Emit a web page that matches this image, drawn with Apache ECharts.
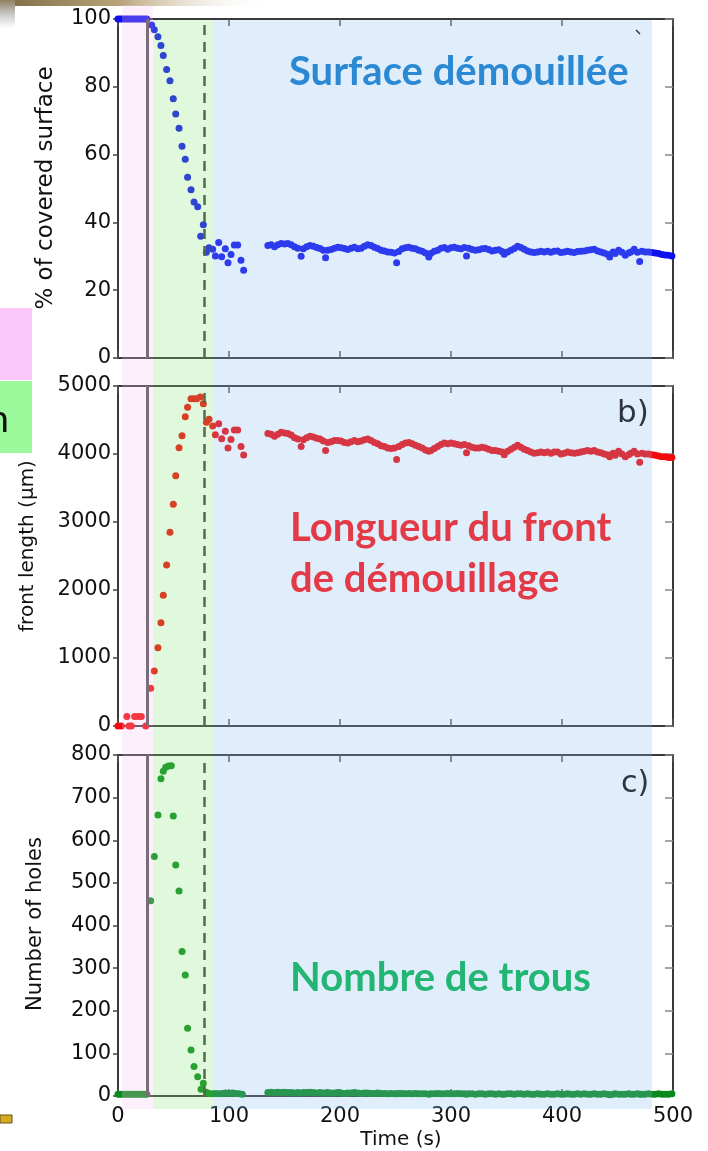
<!DOCTYPE html>
<html><head><meta charset="utf-8">
<script src="https://cdn.jsdelivr.net/npm/echarts@6/dist/echarts.min.js"></script>
<style>html,body{margin:0;padding:0;background:#fff}#c{width:708px;height:1151px}</style>
</head><body><div id="c"></div>
<script>
// ---------- data ----------
const timeTicks = [0, 100, 200, 300, 400, 500];

// panel a : % of covered surface
const coverEarlyTime  = [0,2,4,6,8,10,12,14,16,18,20,22,24,26,30.3,32.7,36,38.7,40.8,43.8,46.8,49.8,52,55,57.7,60.6,62.7,65.8,68.5,71.8,74.5,76.9,79.6,82,85.3,87.7,90.7,93.4,96.7,99.1,101.8,104.8,107.8,110.8,113.2];
const coverEarlyValue = [100,100,100,100,100,100,100,100,100,100,100,100,100,100,98.2,96.8,94.8,92.2,89.2,85.1,81.8,76.5,72,67.8,62.5,58.6,53.3,49.6,46,44.6,35.9,39.3,31.2,32.5,32.1,30.1,34.1,29.9,32.2,28.1,30.5,33.3,33.3,28.8,25.9];

// long-time plateau (shared sampling times for a, b, c)
const plateauTime = [135,138,141,144,147,150,153,156,159,162,165,167,170,173,176,179,182,185,187,189,192,195,198,201,204,207,210,213,216,219,222,225,228,231,234,237,240,243,246,249,251,253,256,259,262,265,268,271,274,277,280,282,285,288,291,294,297,300,303,306,309,312,314,316,319,322,325,328,331,334,337,340,343,346,348,351,354,357,360,363,366,369,372,375,378,381,384,387,390,393,396,399,402,405,408,411,414,417,420,423,426,429,432,435,438,441,443,446,448,451,454,457,460,462,465,468,470,472,475,478,481,484,487,490,493,496,499];
const coverPlateau = [33.2,33.4,32.8,33.4,33.8,33.6,33.8,33.4,32.8,32.4,30.0,32.2,32.8,33.2,33.0,32.6,32.3,31.8,29.6,31.8,32.0,32.4,32.7,32.5,32.3,32.0,32.4,32.7,32.2,32.4,33.0,33.4,33.2,32.7,32.3,31.8,31.6,31.3,31.2,31.0,28.1,31.4,32.2,32.5,32.7,32.4,32.2,31.8,31.5,31.0,29.8,30.9,31.5,31.8,32.4,32.6,32.1,32.5,32.7,32.4,32.2,32.6,30.1,32.4,32.0,31.8,31.9,32.2,32.3,32.0,31.6,31.8,31.9,31.4,30.6,31.3,31.8,32.3,33.0,32.6,32.1,31.6,31.3,31.1,31.3,31.5,31.3,31.5,31.2,31.5,31.6,31.1,31.3,31.5,31.3,31.1,31.4,31.5,31.6,31.8,31.9,32.1,31.6,31.3,31.0,30.6,29.8,31.3,30.8,31.8,31.2,30.3,31.0,31.3,32.1,31.2,28.5,31.5,31.3,31.3,31.1,31.0,30.8,30.5,30.4,30.3,30.1];

// panel b : front length (µm)
const frontEarlyTime  = [0,3,8,10,12,15,18,21,25,29.4,32.7,36,38.7,40.8,43.8,46.8,49.8,52,55,57.7,60.6,62.7,65.8,68.5,70.9,74.1,76.9,79.6,82,85.3,87.7,90.7,93.4,96.7,99.1,101.8,104.8,107.8,110.8,113.2];
const frontEarlyValue = [0,0,140,0,0,140,140,140,0,554,809,1152,1520,1922,2368,2848,3260,3681,4093,4270,4549,4686,4814,4814,4814,4838,4740,4466,4510,4412,4284,4446,4225,4333,4088,4215,4353,4353,4112,3985];
const frontPlateau = [4300,4290,4260,4290,4320,4310,4300,4280,4240,4220,4110,4210,4240,4260,4250,4230,4220,4190,4050,4170,4180,4200,4200,4190,4170,4160,4180,4200,4180,4190,4210,4220,4200,4170,4150,4120,4110,4090,4080,4090,3920,4110,4140,4160,4170,4150,4130,4110,4090,4060,4040,4050,4080,4110,4140,4160,4150,4160,4150,4140,4130,4140,4020,4120,4100,4090,4090,4100,4090,4070,4050,4050,4040,4030,3990,4040,4070,4100,4130,4100,4070,4050,4030,4010,4020,4030,4020,4030,4010,4030,4030,4000,4010,4030,4020,4010,4020,4030,4040,4050,4040,4050,4030,4020,4000,3990,3960,4010,3980,4040,4000,3960,3990,4010,4040,4000,3880,4010,4000,4000,3990,3980,3970,3960,3960,3950,3950];

// panel c : number of holes
const holesEarlyTime  = [0,2,4,6,8,10,12,14,16,18,20,22,24,26,29.4,32.7,36,38.7,40.8,43,45.5,48,49.8,52,55,57.7,60.6,62.7,65.8,68.5,71.8,74.8,76.9,79.6,82,85,88,91,94,97,100,103,106,109,112];
const holesEarlyValue = [4,4,4,4,4,4,4,4,4,4,4,4,4,4,458,562,659,744,762,771,774,775,657,542,481,339,284,159,108,69,45,16,30,9,6,5,6,5,6,7,6,7,6,5,4];
const holesPlateau = [8,9,8,9,8,9,8,8,7,8,7,8,8,9,8,7,8,7,7,8,7,7,8,7,6,7,7,8,7,6,7,7,6,6,7,6,6,5,6,5,5,6,6,5,6,5,6,5,5,5,4,5,5,6,5,5,6,5,5,6,5,5,4,5,5,4,5,5,4,5,5,4,5,4,4,5,5,4,5,5,4,5,4,4,5,4,4,5,4,4,5,4,4,5,4,4,5,4,5,4,4,5,4,4,5,4,3,4,5,4,4,4,5,4,4,5,4,4,4,5,4,4,5,4,4,4,5];

const eventTimes = [26.7, 77.5];   // solid / dashed vertical markers

// ---------- chart ----------
function pairs(t, v) { return t.map((x, i) => [x, v[i]]); }
const FRAME = '#3a3a3a';
const TICKFONT = '"DejaVu Sans", sans-serif';

const grids = [
  {left: 118, top: 19,  width: 555, height: 339},
  {left: 118, top: 386, width: 555, height: 340},
  {left: 118, top: 755, width: 555, height: 341}
];
const yRanges = [[0, 100, 20], [0, 5000, 1000], [0, 800, 100]];

const xAxes = [], yAxes = [];
grids.forEach((g, i) => {
  xAxes.push({
    type: 'value', gridIndex: i, position: 'bottom',
    min: timeTicks[0], max: timeTicks[timeTicks.length - 1], interval: timeTicks[1] - timeTicks[0],
    splitLine: {show: false},
    axisLine: {show: true, onZero: false, lineStyle: {color: FRAME, width: 2}},
    axisTick: {show: true, inside: true, length: 7, lineStyle: {color: '#555', width: 1.5}},
    axisLabel: {show: i === 2, margin: 10, color: '#111', fontSize: 21, fontFamily: TICKFONT, formatter: v => String(v)}
  });
  xAxes.push({
    type: 'value', gridIndex: i, position: 'top',
    min: timeTicks[0], max: timeTicks[timeTicks.length - 1], interval: timeTicks[1] - timeTicks[0],
    splitLine: {show: false},
    axisLine: {show: true, onZero: false, lineStyle: {color: FRAME, width: 2}},
    axisTick: {show: true, inside: true, length: 7, lineStyle: {color: '#555', width: 1.5}},
    axisLabel: {show: false}
  });
  const r = yRanges[i];
  yAxes.push({
    type: 'value', gridIndex: i, position: 'left', min: r[0], max: r[1], interval: r[2],
    splitLine: {show: false},
    axisLine: {show: true, onZero: false, lineStyle: {color: FRAME, width: 2}},
    axisTick: {show: true, inside: false, length: 5, lineStyle: {color: '#444', width: 1.5}},
    axisLabel: {margin: 7, color: '#111', fontSize: 21, fontFamily: TICKFONT, formatter: v => String(v)}
  });
  yAxes.push({
    type: 'value', gridIndex: i, position: 'right', min: r[0], max: r[1], interval: r[2],
    splitLine: {show: false},
    axisLine: {show: true, onZero: false, lineStyle: {color: FRAME, width: 2}},
    axisTick: {show: true, inside: true, length: 8, lineStyle: {color: '#888', width: 1.5}},
    axisLabel: {show: false}
  });
});

const markLines = {
  silent: true, symbol: 'none', animation: false, label: {show: false},
  data: [
    {xAxis: eventTimes[0], lineStyle: {type: 'solid', color: '#505050', width: 3}},
    {xAxis: eventTimes[1], lineStyle: {type: [10, 7], color: '#3c453c', width: 2.5}}
  ]
};

const series = [
  {type: 'scatter', xAxisIndex: 0, yAxisIndex: 0, symbolSize: 7, itemStyle: {color: '#1010ee', opacity: 1},
   data: pairs(coverEarlyTime, coverEarlyValue).concat(pairs(plateauTime, coverPlateau)), markLine: markLines},
  {type: 'scatter', xAxisIndex: 2, yAxisIndex: 2, symbolSize: 7, itemStyle: {color: '#f20a0a', opacity: 1},
   data: pairs(frontEarlyTime, frontEarlyValue).concat(pairs(plateauTime, frontPlateau)), markLine: markLines},
  {type: 'scatter', xAxisIndex: 4, yAxisIndex: 4, symbolSize: 7, itemStyle: {color: '#0a8a1c', opacity: 1},
   data: pairs(holesEarlyTime, holesEarlyValue).concat(pairs(plateauTime, holesPlateau)), markLine: markLines}
];

function txt(x, y, text, font, fill, extra) {
  return Object.assign({type: 'text', x: x, y: y, z: 60, silent: true,
    style: Object.assign({text: text, font: font, fill: fill, align: 'left', verticalAlign: 'middle'}, extra || {})});
}
const LABELFONT = '"DejaVu Sans", sans-serif';
const graphic = [
  // translucent time-window bands (overlaid on the plot)
  {type: 'rect', z: 50, silent: true, shape: {x: 122, y: 5, width: 31, height: 1104}, style: {fill: 'rgba(247,195,243,0.25)'}},
  {type: 'rect', z: 50, silent: true, shape: {x: 153, y: 20, width: 60, height: 1089}, style: {fill: 'rgba(131,227,115,0.25)'}},
  {type: 'rect', z: 50, silent: true, shape: {x: 213, y: 20, width: 439, height: 1089}, style: {fill: 'rgba(131,187,239,0.25)'}},
  // slide decorations at the left edge
  {type: 'rect', z: 40, silent: true, shape: {x: 0, y: 0, width: 270, height: 6},
   style: {fill: new echarts.graphic.LinearGradient(0, 0, 1, 0, [{offset: 0, color: '#7d6a45'}, {offset: 0.45, color: '#b9a57a'}, {offset: 1, color: 'rgba(255,255,255,0)'}])}},
  {type: 'rect', z: 40, silent: true, shape: {x: 0, y: 0, width: 15, height: 28},
   style: {fill: new echarts.graphic.LinearGradient(0, 0, 0, 1, [{offset: 0, color: '#8f8060'}, {offset: 0.5, color: '#c8c8c8'}, {offset: 1, color: '#ffffff'}])}},
  {type: 'rect', z: 40, silent: true, shape: {x: 0, y: 308, width: 32, height: 72}, style: {fill: '#fac8f8'}},
  {type: 'rect', z: 40, silent: true, shape: {x: 0, y: 381, width: 32, height: 72}, style: {fill: '#9cf99c'}},
  txt(9, 420, 'n', '38px Lato, sans-serif', '#111', {align: 'right'}),
  {type: 'rect', z: 40, silent: true, shape: {x: 0, y: 1115, width: 12, height: 8}, style: {fill: '#d6ab22', stroke: '#6b5010', lineWidth: 1}},
  {type: 'line', z: 60, silent: true, shape: {x1: 636, y1: 30, x2: 640, y2: 34}, style: {stroke: '#333', lineWidth: 1.5}},
  // axis titles
  txt(46, 188, '% of covered surface', '23px ' + LABELFONT, '#111', {align: 'center'}),
  txt(28, 546, 'front length (µm)', '20px ' + LABELFONT, '#111', {align: 'center'}),
  txt(36, 924, 'Number of holes', '21px ' + LABELFONT, '#111', {align: 'center'}),
  txt(401, 1140, 'Time (s)', '20px ' + LABELFONT, '#111', {align: 'center'}),
  // panel tags
  txt(617, 414, 'b)', '31px ' + LABELFONT, '#2f3540'),
  txt(621, 784, 'c)', '30px ' + LABELFONT, '#2f3540'),
  // French annotations
  txt(289, 72, 'Surface démouillée', 'bold 40px Lato, sans-serif', '#2b89d4'),
  txt(290, 528, 'Longueur du front', 'bold 40px Lato, sans-serif', '#e23a46'),
  txt(290, 579, 'de démouillage', 'bold 40px Lato, sans-serif', '#e23a46'),
  txt(290, 978, 'Nombre de trous', 'bold 40px Lato, sans-serif', '#23b574')
];
// rotate the three y titles
[10, 11, 12].forEach(k => { graphic[k].rotation = Math.PI / 2; });

const chart = echarts.init(document.getElementById('c'), null, {renderer: 'canvas'});
chart.setOption({
  animation: false,
  backgroundColor: '#ffffff',
  grid: grids,
  xAxis: xAxes,
  yAxis: yAxes,
  series: series,
  graphic: graphic
});
</script></body></html>
